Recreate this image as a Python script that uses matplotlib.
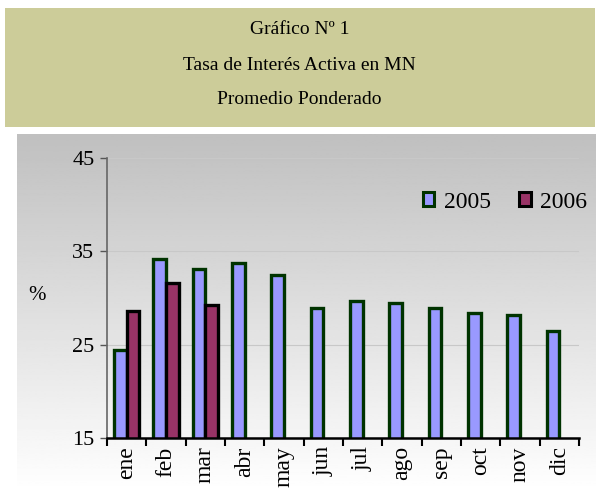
import matplotlib.pyplot as plt
import numpy as np
from matplotlib.patches import Rectangle, Patch

plt.rcParams['font.family'] = ['Liberation Serif', 'DejaVu Serif']

meses = ['ene', 'feb', 'mar', 'abr', 'may', 'jun', 'jul', 'ago', 'sep', 'oct', 'nov', 'dic']
tasa_2005 = [24.4, 34.2, 33.1, 33.8, 32.5, 28.9, 29.7, 29.5, 28.9, 28.4, 28.2, 26.5]
tasa_2006 = [28.6, 31.6, 29.3]

W, H = 599, 491
fig = plt.figure(figsize=(W / 100, H / 100), dpi=100)
fig.patch.set_facecolor('white')

# recuadro del titulo
fig.patches.append(Rectangle((5 / W, 1 - 127 / H), 590 / W, 119 / H,
                             transform=fig.transFigure, facecolor='#CCCC99',
                             edgecolor='none', zorder=0))
fig.text(0.5, 1 - 30 / H, 'Gráfico Nº 1', ha='center', va='center', fontsize=14)
fig.text(0.5, 1 - 65 / H, 'Tasa de Interés Activa en MN', ha='center', va='center', fontsize=14)
fig.text(0.5, 1 - 100 / H, 'Promedio Ponderado', ha='center', va='center', fontsize=14)

# fondo degradado del area del grafico
bg = fig.add_axes([17 / W, 0, 579 / W, 1 - 134 / H], zorder=0)
grad = np.linspace(0.75, 1.0, 256).reshape(-1, 1)
bg.imshow(grad, aspect='auto', cmap='gray', vmin=0, vmax=1,
          extent=[0, 1, 0, 1], origin='upper')
bg.axis('off')

ax = fig.add_axes([107 / W, 1 - 438 / H, 472 / W, 280 / H], zorder=1)
ax.patch.set_alpha(0)

x = np.arange(len(meses))
ancho = 0.32
ax.bar(x - 0.16, tasa_2005, ancho, bottom=0, color='#9999FF',
       edgecolor='#003300', linewidth=2.4, zorder=3)
ax.bar(x[:len(tasa_2006)] + 0.16, tasa_2006, ancho, color='#993366',
       edgecolor='black', linewidth=2.4, zorder=3)

ax.set_ylim(15, 45)
ax.set_xlim(-0.5, len(meses) - 0.5)
ax.set_yticks([15, 25, 35, 45])
ax.tick_params(axis='y', labelsize=16, length=5, width=1, color='#555555', pad=4)
ax.yaxis.grid(True, color='#C8C8C8', linewidth=0.8, zorder=1)

ax.set_xticks(x)
ax.set_xticklabels(meses, rotation=90, fontsize=17)
ax.tick_params(axis='x', length=0, pad=6)
ax.set_xticks(np.arange(-0.5, len(meses)), minor=True)
ax.tick_params(axis='x', which='minor', length=6, width=1.5, color='black')

for s in ['top', 'right']:
    ax.spines[s].set_visible(False)
ax.spines['left'].set_color('#666666')
ax.spines['left'].set_linewidth(1.2)
ax.spines['bottom'].set_color('black')
ax.spines['bottom'].set_linewidth(1.8)
ax.spines['bottom'].set_zorder(4)

fig.text(37 / W, 1 - 296 / H, '%', ha='center', va='center', fontsize=15)

handles = [Patch(facecolor='#9999FF', edgecolor='#003300', linewidth=2.2),
           Patch(facecolor='#993366', edgecolor='black', linewidth=2.2)]
fig.legend(handles, ['2005', '2006'], loc='center', ncol=2, frameon=False,
           bbox_to_anchor=(505 / W, 1 - 202 / H), fontsize=17,
           handlelength=0.5, handleheight=0.5, handletextpad=0.4,
           columnspacing=1.2)

fig.savefig('out.png', dpi=100)
